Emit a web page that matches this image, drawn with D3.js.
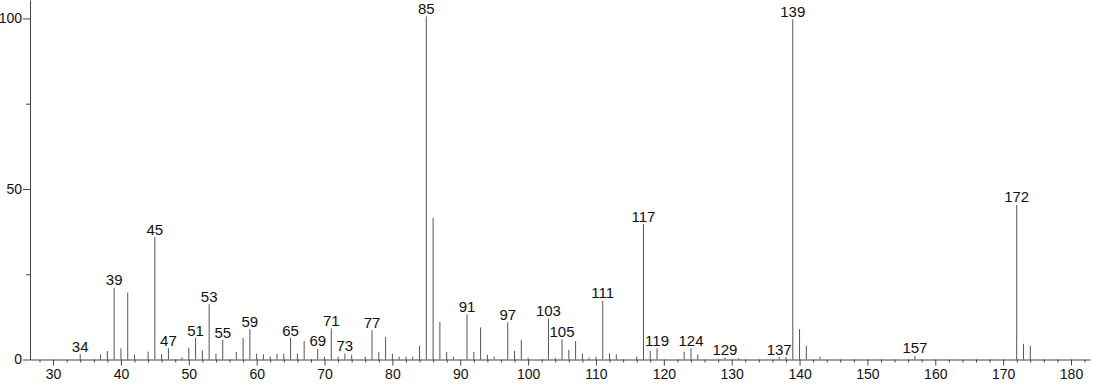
<!DOCTYPE html>
<html>
<head>
<meta charset="utf-8">
<script src="https://cdn.jsdelivr.net/npm/d3@7"></script>
<style>
  body { margin: 0; background: #fff; }
  svg { display: block; font-family: "Liberation Sans", Arial, sans-serif; }
</style>
</head>
<body>
<div id="chart"></div>
<script>
// Data: m/z and relative intensity (%)
const mz = [34, 37, 38, 39, 40, 41, 42, 44, 45, 46, 47, 49, 50, 51, 52, 53, 54, 55, 57, 58, 59,
  60, 61, 62, 63, 64, 65, 66, 67, 69, 70, 71, 72, 73, 74, 76, 77, 78, 79, 80, 81, 82, 83, 84,
  85, 86, 87, 88, 89, 91, 92, 93, 94, 95, 97, 98, 99, 100, 103, 104, 105, 106, 107, 108, 109,
  110, 111, 112, 113, 116, 117, 118, 119, 123, 124, 125, 129, 131, 137, 138, 139, 140, 141,
  143, 157, 172, 173, 174]
const intensity = [1.6, 1.5, 2.5, 21, 3.3, 19.6, 1.4, 2.3, 35.9, 1.6, 3.3, 0.6, 3.5, 6.3, 2.7, 16.2, 1.7, 5.7, 2.2, 6.3, 8.9,
  1.7, 1.5, 0.9, 1.6, 1.7, 6.3, 1.7, 5.4, 3.1, 0.8, 9.1, 0.8, 1.8, 1.4, 0.8, 8.6, 2.2, 6.6, 1.7, 0.8, 0.8, 0.8, 4.0,
  100.6, 41.5, 11, 2.2, 0.8, 13.3, 2.2, 9.4, 1.4, 0.8, 10.9, 2.5, 5.8, 0.5, 12, 0.5, 5.9, 2.8, 5.4, 1.8, 0.6,
  0.8, 17.2, 1.8, 1.5, 0.8, 39.7, 2.5, 3.3, 2.3, 3.3, 1.5, 0.6, 0.4, 0.7, 0.8, 99.7, 8.9, 4.0,
  0.8, 1.1, 45.3, 4.6, 4.0]
const labelled = [34, 39, 45, 47, 51, 53, 55, 59, 65, 69, 71, 73, 77, 85, 91, 97, 103, 105, 111,
  117, 119, 124, 129, 137, 139, 157, 172]
const xMajor = [30, 40, 50, 60, 70, 80, 90, 100, 110, 120, 130, 140, 150, 160, 170, 180]
const yMajor = [0, 50, 100]
const yMinor = [25, 75]

const dataset = mz.map((m, i) => ({ mz: m, value: intensity[i] }))

const dimensions = { width: 1094, height: 384 }

const svg = d3.select('#chart')
  .append('svg')
  .attr('width', dimensions.width)
  .attr('height', dimensions.height)

// Scales
const xScale = d3.scaleLinear().domain([26.6, 182.8]).range([30, 1090])
const yScale = d3.scaleLinear().domain([0, 105.4]).range([359.5, 0])

// minor x ticks every 2 units
const xMinor = d3.range(28, 183, 2).filter(v => v % 10 !== 0)

// Peaks
svg.append('g')
  .selectAll('line')
  .data(dataset)
  .join('line')
  .attr('x1', d => xScale(d.mz))
  .attr('x2', d => xScale(d.mz))
  .attr('y1', yScale(0))
  .attr('y2', d => yScale(d.value))
  .attr('stroke', '#555')
  .attr('stroke-width', 1)

// Peak labels
svg.append('g')
  .selectAll('text')
  .data(dataset.filter(d => labelled.includes(d.mz)))
  .join('text')
  .attr('x', d => xScale(d.mz))
  .attr('y', d => yScale(d.value) - 2.5)
  .attr('text-anchor', 'middle')
  .attr('font-size', 15)
  .attr('fill', '#111')
  .text(d => d.mz)

// Axes
const styleAxis = g => {
  g.selectAll('path, line').attr('stroke', '#444')
  g.selectAll('text').attr('font-size', 14).attr('fill', '#111').attr('font-family', null)
}

svg.append('g')
  .attr('transform', `translate(0, ${yScale(0)})`)
  .call(d3.axisBottom(xScale).tickValues(xMinor).tickSize(3).tickSizeOuter(0).tickFormat(''))
  .call(g => g.select('.domain').remove())
  .call(styleAxis)

svg.append('g')
  .attr('transform', `translate(0, ${yScale(0)})`)
  .call(d3.axisBottom(xScale).tickValues(xMajor).tickSize(6).tickSizeOuter(0).tickPadding(4))
  .call(styleAxis)

svg.append('g')
  .attr('transform', `translate(${xScale.range()[0]}, 0)`)
  .call(d3.axisLeft(yScale).tickValues(yMinor).tickSize(4).tickSizeOuter(0).tickFormat(''))
  .call(g => g.select('.domain').remove())
  .call(styleAxis)

svg.append('g')
  .attr('transform', `translate(${xScale.range()[0]}, 0)`)
  .call(d3.axisLeft(yScale).tickValues(yMajor).tickSize(7).tickSizeOuter(0).tickPadding(1))
  .call(styleAxis)

svg.selectAll('.domain').attr('stroke', '#444')
</script>
</body>
</html>
